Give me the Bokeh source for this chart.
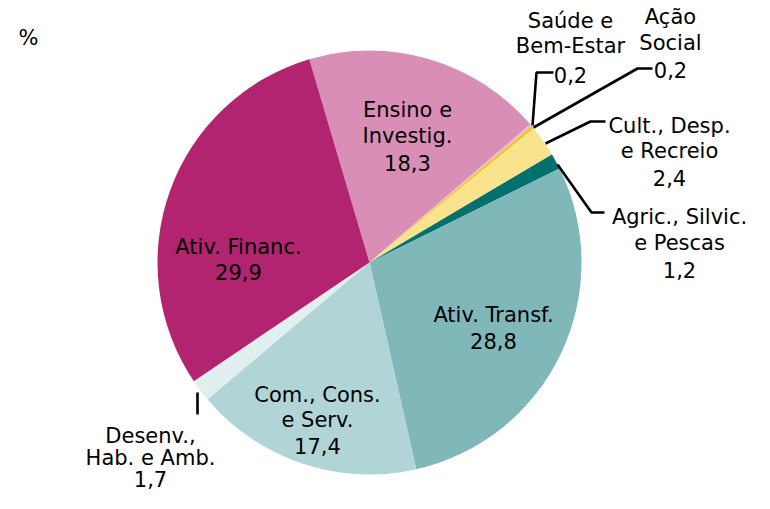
import math
from bokeh.plotting import figure
from bokeh.models import Range1d, ColumnDataSource
from bokeh.core.properties import value
from bokeh.embed import file_html
from bokeh.resources import INLINE

# ---------------- data ----------------
categories = ["Ensino e\nInvestig.", "Saúde e\nBem-Estar", "Ação\nSocial",
              "Cult., Desp.\ne Recreio", "Agric., Silvic.\ne Pescas",
              "Ativ. Transf.", "Com., Cons.\ne Serv.", "Desenv.,\nHab. e Amb.",
              "Ativ. Financ."]
values = [18.3, 0.2, 0.2, 2.4, 1.2, 28.8, 17.4, 1.7, 29.9]
colors = ["#D98FB5", "#EBB9CF", "#F2C300", "#F9E38D", "#00716D",
          "#80B7B8", "#B1D5D6", "#E2EFEF", "#B22470"]
unit_label = "%"

# ---------------- layout ----------------
W, H = 754, 493
FONT = "DejaVu Sans"
FS = "21px"


def sx(x):
    return x


def sy(y):
    return 501 - y


CX, CY, R = sx(369), sy(270), 212
START_DEG = -16.5  # clockwise from 12 o'clock

# label anchors (picture px): centre x, list of baselines
label_pos = [
    (407, [117, 143, 170]),
    (570, [28, 53, 82]),
    (670, [24, 50, 77]),
    (669, [133, 158, 185]),
    (679, [224, 250, 277]),
    (493, [322, 348]),
    (317, [402, 427, 453]),
    (150, [443, 465, 486]),
    (238, [254, 279]),
]
# leader polylines (picture px)
leaders = [
    None,
    [(532, 133), (536, 80), (553, 80)],
    [(533, 135), (637, 76), (652, 76)],
    [(545, 151), (590, 129), (605, 129)],
    [(557, 172), (591, 220), (604, 220)],
    None,
    None,
    [(197, 400), (197, 422)],
    None,
]

# ---------------- figure ----------------
p = figure(width=W, height=H, output_backend="svg", toolbar_location=None,
           x_range=Range1d(0, W), y_range=Range1d(0, H), min_border=0)
p.axis.visible = False
p.grid.visible = False
p.outline_line_color = None
p.background_fill_color = "white"
p.border_fill_color = "white"

total = sum(values)
starts, ends = [], []
acc = START_DEG
for v in values:
    a0 = acc
    a1 = acc + v / total * 360.0
    starts.append(math.radians(90 - a0))
    ends.append(math.radians(90 - a1))
    acc = a1

src = ColumnDataSource(dict(x=[CX] * len(values), y=[CY] * len(values),
                            start=starts, end=ends, color=colors))
p.wedge(x="x", y="y", radius=R, start_angle="start", end_angle="end",
        direction="clock", fill_color="color", line_color=None, source=src)

# labels
tx, ty, tt = [], [], []
for cat, v, (cx, bases) in zip(categories, values, label_pos):
    lines = cat.split("\n") + [f"{v:.1f}".replace(".", ",")]
    for line, b in zip(lines, bases):
        tx.append(sx(cx))
        ty.append(sy(b))
        tt.append(line)
p.text(x=tx, y=ty, text=tt, text_font=value(FONT), text_font_size=FS,
       text_align="center", text_baseline="alphabetic", text_color="black")

# leaders
for ld in leaders:
    if ld is None:
        continue
    p.line(x=[sx(a) for a, b in ld], y=[sy(b) for a, b in ld],
           line_color="black", line_width=2.6)

# unit
p.text(x=[sx(18)], y=[sy(45)], text=[unit_label], text_font=value(FONT),
       text_font_size=FS, text_align="left", text_baseline="alphabetic",
       text_color="black")

open("out.html", "w").write(file_html(p, INLINE))
